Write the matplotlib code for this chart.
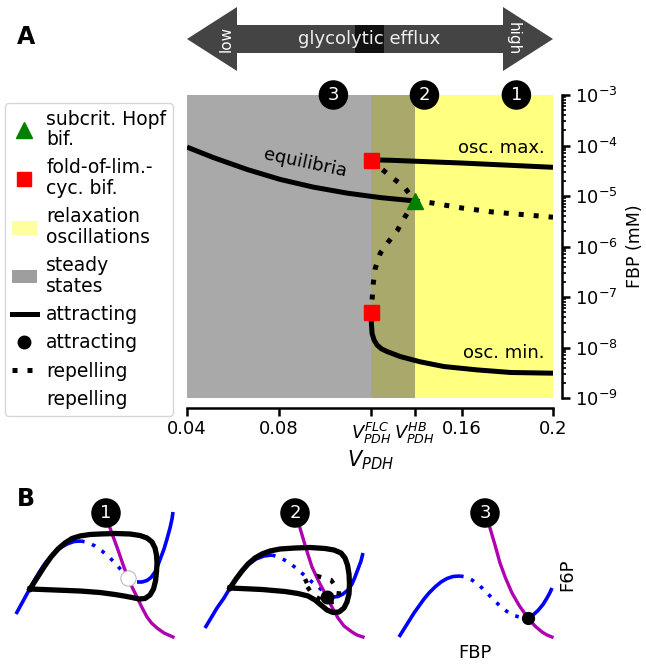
import numpy as np
import matplotlib
matplotlib.use('Agg')
import matplotlib.pyplot as plt
from matplotlib.patches import Polygon, Rectangle, Patch
from matplotlib.lines import Line2D

# ---------------- Panel A data ----------------
V_FLC = 0.1205
V_HB = 0.1395
x_ticks = [0.04, 0.08, V_FLC, V_HB, 0.16, 0.2]
x_ticklabels = ['0.04', '0.08', r'$V_{PDH}^{FLC}$', r'$V_{PDH}^{HB}$', '0.16', '0.2']

eq_stable_x = [0.04, 0.0514, 0.0663, 0.0807, 0.0952, 0.110, 0.1245, 0.1395]
eq_stable_y = [9.3e-5, 5.8e-5, 3.35e-5, 2.13e-5, 1.5e-5, 1.14e-5, 9.3e-6, 8.0e-6]
eq_unstable_x = [0.1395, 0.147, 0.160, 0.174, 0.189, 0.2]
eq_unstable_y = [8.0e-6, 7.3e-6, 5.8e-6, 4.8e-6, 4.2e-6, 3.8e-6]
max_stable_x = [0.1205, 0.129, 0.160, 0.2]
max_stable_y = [5.2e-5, 5.1e-5, 4.5e-5, 3.7e-5]
max_unstable_x = [0.1205, 0.1245, 0.1298, 0.135, 0.1395]
max_unstable_y = [5.2e-5, 3.6e-5, 2.3e-5, 1.5e-5, 8.0e-6]
min_unstable_x = [0.1395, 0.1355, 0.132, 0.128, 0.1245, 0.1223, 0.1215, 0.1210, 0.1205]
min_unstable_y = [8.0e-6, 4.0e-6, 2.1e-6, 1.23e-6, 7.4e-7, 3.7e-7, 2.0e-7, 1.0e-7, 5.0e-8]
min_stable_x = [0.1205, 0.1206, 0.1209, 0.1218, 0.1231, 0.125, 0.1275, 0.1333, 0.142, 0.1523, 0.1669, 0.1815, 0.2]
min_stable_y = [5.0e-8, 3.0e-8, 1.9e-8, 1.4e-8, 1.12e-8, 9.4e-9, 8.3e-9, 6.6e-9, 5.2e-9, 4.2e-9, 3.6e-9, 3.2e-9, 3.1e-9]
hopf_point = (0.1395, 8.0e-6)
flc_points_x = [0.1205, 0.1205]
flc_points_y = [5.2e-5, 5.0e-8]
region_numbers = ['3', '2', '1']
region_number_x = [0.104, 0.1438, 0.184]

# ---------------- Panel B sketch data (figure pixel units) ----------------
p1_blue_left = [(16, 614), (22, 603), (28, 592), (34, 581), (40, 571), (46, 562), (53, 554), (60, 548), (67, 544),
                (74, 541.5), (81, 541)]
p1_blue_mid = [(81, 541), (88, 542.5), (95, 546), (102, 551), (109, 557), (116, 564), (122, 571), (128, 578)]
p1_blue_right = [(137, 582), (142, 582), (147, 580.5), (151, 577.5), (155, 572), (158, 565), (161, 557), (164, 549),
                 (167, 539), (170, 528), (172, 519), (173, 512)]
p1_magenta = [(110, 528), (114, 539), (118, 550), (122.8, 564), (128, 578), (132.5, 588), (137, 597), (141.7, 607),
              (147, 617), (151.5, 623), (157, 628), (164, 633), (173, 637)]
p1_cycle = [(30, 589), (37, 578), (44, 567), (51, 557), (58, 549), (65, 543), (72, 538.5), (80, 536), (90, 534.5),
            (100, 534), (115, 533.5), (130, 534), (140, 535.5), (147, 538), (152, 542), (155, 548), (156.5, 555),
            (157, 563), (156.5, 572), (155.5, 581), (153.5, 589), (150, 595), (145, 598.5), (139, 599),
            (132, 597.5), (124, 596), (115, 594.5), (100, 592.5), (80, 591), (55, 590), (30, 589)]
p1_unstable_fp = (128, 578)

p2_blue_left = [(205, 628), (211, 618), (217, 608), (224, 598), (230, 588), (236, 579), (242, 571), (249, 564),
                (256, 559), (264, 556), (272, 555)]
p2_blue_mid = [(272, 555), (280, 557.5), (288, 562), (296, 568), (304, 575), (312, 582), (320, 588.5), (327, 594),
               (333, 597)]
p2_blue_right = [(333, 597), (338, 596.5), (343, 594), (348, 590), (352, 584), (355, 577), (358, 569), (361, 561),
                 (363, 553)]
p2_magenta = [(300, 528), (303.5, 540), (307.5, 553), (312, 567), (319, 582), (327, 597), (332.5, 608), (338, 618),
              (344, 626), (352, 632), (357, 635), (363, 637)]
p2_cycle = [(230, 588), (236, 579), (242, 571), (248, 564), (255, 558), (262, 554), (270, 551), (280, 549),
            (295, 548), (310, 547.5), (325, 548.5), (334, 550), (341, 553), (345, 558), (347.5, 565), (349, 574),
            (349.5, 584), (349, 594), (347, 602), (344, 608), (339, 612), (333, 612.5), (327, 610), (321, 605),
            (315, 600), (308, 596), (298, 593.5), (285, 591.5), (262, 589.5), (230, 588)]
p2_small_cycle = [(304, 582), (317, 576), (331, 580), (339, 591), (338, 601), (326, 603), (313, 595), (304, 582)]
p2_stable_fp = (327, 597)

p3_blue_left = [(399, 637), (404, 629), (409, 621), (414, 613), (419, 606), (424, 599), (429, 593), (435, 587),
                (441, 582), (447, 578.5), (453, 576.5), (460, 576)]
p3_blue_mid = [(460, 576), (466, 577), (472, 580), (479, 585), (486, 592), (493, 599), (500, 606), (507, 611.5),
               (514, 615.5), (521, 617.5), (528, 618)]
p3_blue_right = [(528, 618), (533, 615), (538, 610.5), (543, 604.5), (547, 598), (550, 592.5), (552, 588)]
p3_magenta = [(490, 528), (495, 545), (500, 563), (505.5, 578), (512, 593), (519.5, 606), (528, 618), (535, 626),
              (542, 632), (547, 635), (552, 637)]
p3_stable_fp = (528, 618)
b_numbers = ['1', '2', '3']
b_number_pos = [(106, 513), (295, 513), (485, 513)]

# ---------------- figure ----------------
W, H = 646, 665
fig = plt.figure(figsize=(W / 100, H / 100), dpi=100)
plt.rcParams['font.family'] = ['DejaVu Sans']

# overlay in pixel coords
ov = fig.add_axes([0, 0, 1, 1])
ov.set_xlim(0, W)
ov.set_ylim(H, 0)
ov.axis('off')

# main axes
L, R, T, B = 187, 553, 95, 398
ax = fig.add_axes([L / W, 1 - B / H, (R - L) / W, (B - T) / H])
ax.set_xlim(0.04, 0.2)
ax.set_yscale('log')
ax.set_ylim(1e-9, 1e-3)

c_gray = '#a9a9a9'
c_olive = '#a9a96b'
c_yellow = '#ffff80'
ax.axvspan(0.04, V_FLC, color=c_gray, lw=0, zorder=0)
ax.axvspan(V_FLC, V_HB, color=c_olive, lw=0, zorder=0)
ax.axvspan(V_HB, 0.2, color=c_yellow, lw=0, zorder=0)

lw = 3.6
dot = (0, (1, 2))
ax.plot(eq_stable_x, eq_stable_y, color='k', lw=lw, solid_capstyle='butt', zorder=3)
ax.plot(eq_unstable_x, eq_unstable_y, color='k', lw=lw, ls=dot, zorder=3)
ax.plot(max_stable_x, max_stable_y, color='k', lw=lw, solid_capstyle='butt', zorder=3)
ax.plot(max_unstable_x, max_unstable_y, color='k', lw=lw, ls=dot, zorder=3)
ax.plot(min_unstable_x, min_unstable_y, color='k', lw=lw, ls=dot, zorder=3)
ax.plot(min_stable_x, min_stable_y, color='k', lw=lw, solid_capstyle='butt', solid_joinstyle='round', zorder=3)
ax.plot(flc_points_x, flc_points_y, 's', color='red', ms=10.8, mec='red', zorder=5, clip_on=False)
ax.plot([hopf_point[0]], [hopf_point[1]], '^', color='green', ms=12, zorder=5)

ax.text(0.0915, 4.5e-5, 'equilibria', fontsize=13, rotation=-12, ha='center', va='center', zorder=4)
ax.text(0.1965, 5.9e-5, 'osc. max.', fontsize=13, ha='right', va='bottom', zorder=4)
ax.text(0.1965, 5.2e-9, 'osc. min.', fontsize=13, ha='right', va='bottom', zorder=4)

for lab, xv in zip(region_numbers, region_number_x):
    ax.text(xv, 1e-3, lab, fontsize=13, color='white', ha='center', va='center', zorder=6,
            clip_on=False, bbox=dict(boxstyle='circle,pad=0.28', fc='black', ec='black'))

for s in ['top', 'left']:
    ax.spines[s].set_visible(False)
ax.spines['right'].set_position(('outward', 6.5))
ax.spines['bottom'].set_position(('outward', 7.2))
ax.spines['right'].set_linewidth(1.8)
ax.spines['bottom'].set_linewidth(1.8)
ax.yaxis.tick_right()
ax.yaxis.set_label_position('right')
ax.set_xticks(x_ticks)
ax.set_xticklabels(x_ticklabels)
ax.tick_params(axis='x', which='major', length=6, width=1.8, labelsize=13, pad=3)
ax.tick_params(axis='y', which='major', length=6, width=1.8, labelsize=13, pad=3)
ax.tick_params(axis='y', which='minor', length=3, width=1.2)
ax.set_xlabel(r'$V_{PDH}$', fontsize=15, labelpad=2)
ax.set_ylabel('FBP (mM)', fontsize=12.5, labelpad=6)

# legend
handles = [
    Line2D([], [], marker='^', color='green', ls='none', ms=12),
    Line2D([], [], marker='s', color='red', ls='none', ms=10.5),
    Patch(facecolor='#ffffa0', edgecolor='none'),
    Patch(facecolor='#9e9e9e', edgecolor='none'),
    Line2D([], [], color='k', lw=lw),
    Line2D([], [], marker='o', color='k', ls='none', ms=9),
    Line2D([], [], color='k', lw=lw, ls=dot),
    Line2D([], [], marker='o', color='white', mec='white', ls='none', ms=9),
]
labels = ['subcrit. Hopf\nbif.', 'fold-of-lim.-\ncyc. bif.', 'relaxation\noscillations', 'steady\nstates',
          'attracting', 'attracting', 'repelling', 'repelling']
leg = fig.legend(handles, labels, loc='upper left', bbox_to_anchor=(5 / W, 1 - 103 / H), fontsize=13.5,
                 handlelength=1.35, handletextpad=0.5, labelspacing=0.5, borderpad=0.35, borderaxespad=0)
for t in leg.get_texts():
    t.set_linespacing(1.1)

# top arrow
ay, bh, hh, hl = 39, 14, 32, 50
arrow = Polygon([(L, ay), (L + hl, ay - hh), (L + hl, ay - bh), (R - hl, ay - bh), (R - hl, ay - hh), (R, ay),
                 (R - hl, ay + hh), (R - hl, ay + bh), (L + hl, ay + bh), (L + hl, ay + hh)],
                closed=True, fc='#444444', ec='none')
ov.add_patch(arrow)
ov.add_patch(Rectangle((355, ay - bh), 29, 2 * bh, fc='#111111', ec='none'))
ov.text(369, ay, 'glycolytic efflux', color='#eeeeee', fontsize=13, ha='center', va='center')
ov.text(226, ay, 'low', color='white', fontsize=11, rotation=90, ha='center', va='center')
ov.text(513, ay, 'high', color='white', fontsize=11, rotation=-90, ha='center', va='center')

ov.text(26, 37, 'A', fontsize=17, fontweight='bold', ha='center', va='center')
ov.text(26, 499, 'B', fontsize=17, fontweight='bold', ha='center', va='center')

# panel B sketches
blue = '#0000ff'
mag = '#b000b0'


def pl(pts, **kw):
    a = np.array(pts, dtype=float)
    ov.plot(a[:, 0], a[:, 1], **kw)


bdot = (0, (1, 2.2))
for left, mid, right in [(p1_blue_left, p1_blue_mid, p1_blue_right),
                         (p2_blue_left, p2_blue_mid, p2_blue_right),
                         (p3_blue_left, p3_blue_mid, p3_blue_right)]:
    pl(left, color=blue, lw=2.6, solid_capstyle='butt', solid_joinstyle='round', zorder=2)
    pl(mid, color=blue, lw=2.6, ls=bdot, zorder=2)
    pl(right, color=blue, lw=2.6, solid_capstyle='butt', solid_joinstyle='round', zorder=2)
for m in [p1_magenta, p2_magenta, p3_magenta]:
    pl(m, color=mag, lw=2.4, solid_joinstyle='round', zorder=2)
for cyc in [p1_cycle, p2_cycle]:
    pl(cyc, color='k', lw=3.8, solid_joinstyle='round', zorder=3)
pl(p2_small_cycle, color='k', lw=3.2, ls=(0, (1, 2.2)), zorder=3)
ov.plot([p1_unstable_fp[0]], [p1_unstable_fp[1]], 'o', ms=11, mfc='white', mec='#bbbbbb', mew=0.8, zorder=4)
ov.plot([p2_stable_fp[0]], [p2_stable_fp[1]], 'o', ms=9, color='k', zorder=4)
ov.plot([p3_stable_fp[0]], [p3_stable_fp[1]], 'o', ms=8.5, color='k', zorder=4)
for lab, (bx, by) in zip(b_numbers, b_number_pos):
    ov.text(bx, by, lab, fontsize=13, color='white', ha='center', va='center', zorder=6,
            bbox=dict(boxstyle='circle,pad=0.28', fc='black', ec='black'))
ov.text(567, 575, 'F6P', fontsize=13, rotation=90, ha='center', va='center')
ov.text(475, 653, 'FBP', fontsize=13, ha='center', va='center')

fig.savefig('out.png', dpi=100)
